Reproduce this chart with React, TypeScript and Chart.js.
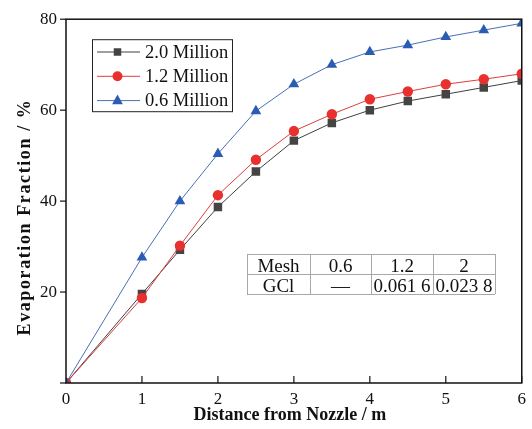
import React, { useEffect, useRef } from "react";
import { Chart, registerables } from "chart.js";

Chart.register(...registerables);

const distances = [0, 1, 1.5, 2, 2.5, 3, 3.5, 4, 4.5, 5, 5.5, 6];
const mesh20 = [0, 19.6, 29.3, 38.7, 46.5, 53.3, 57.2, 60.0, 62.0, 63.5, 65.0, 66.5];
const mesh12 = [0, 18.7, 30.2, 41.3, 49.1, 55.4, 59.1, 62.4, 64.1, 65.7, 66.8, 68.0];
const mesh06 = [0, 27.6, 40.0, 50.4, 59.8, 65.7, 70.0, 72.8, 74.3, 76.1, 77.6, 79.1];
const seriesLabels = ["2.0 Million", "1.2 Million", "0.6 Million"];
const xTicks = [0, 1, 2, 3, 4, 5, 6];
const yTicks = [0, 20, 40, 60, 80];
const xTitle = "Distance from Nozzle / m";
const yTitle = "Evaporation Fraction / %";
const tableRows = [
  ["Mesh", "0.6", "1.2", "2"],
  ["GCl", "—", "0.061 6", "0.023 8"],
];

const FONT = "'Liberation Serif', 'Times New Roman', serif";

const styles = [
  { line: "#404040", fill: "#444444", point: "rect", radius: 6, lsize: 7.5 },
  { line: "#d9403f", fill: "#e8302f", point: "circle", radius: 5.2, lsize: 5 },
  { line: "#4a6fb5", fill: "#2a5cb3", point: "triangle", radius: 6.2, lsize: 6 },
];

const decorPlugin = {
  id: "decor",
  afterDraw(chart: any) {
    const ctx = chart.ctx;
    const a = chart.chartArea;
    const xs = chart.scales.x;
    const ys = chart.scales.y;
    ctx.save();
    // frame
    ctx.strokeStyle = "#111";
    ctx.lineWidth = 1.5;
    ctx.strokeRect(a.left, a.top, a.right - a.left, a.bottom - a.top);
    // x ticks inward
    ctx.lineWidth = 1.2;
    xTicks.forEach((v) => {
      if (v === 0) return;
      const px = xs.getPixelForValue(v);
      ctx.beginPath();
      ctx.moveTo(px, a.bottom);
      ctx.lineTo(px, a.bottom - 7);
      ctx.stroke();
    });
    // y ticks outward
    yTicks.forEach((v) => {
      const py = ys.getPixelForValue(v);
      ctx.beginPath();
      ctx.moveTo(a.left, py);
      ctx.lineTo(a.left - 6, py);
      ctx.stroke();
    });

    // axis titles
    ctx.fillStyle = "#111";
    ctx.font = `bold 18px ${FONT}`;
    ctx.textAlign = "center";
    ctx.textBaseline = "alphabetic";
    ctx.fillText(xTitle, (a.left + a.right) / 2 - 4, 419.5);
    ctx.save();
    ctx.translate(30, 217);
    ctx.rotate(-Math.PI / 2);
    (ctx as any).letterSpacing = "1.6px";
    ctx.fillText(yTitle, 0, 0);
    ctx.restore();

    // legend
    const lx = a.left + 26;
    const ly = a.top + 20;
    const lw = 140;
    const lh = 72;
    ctx.fillStyle = "#fff";
    ctx.fillRect(lx, ly, lw, lh);
    ctx.strokeStyle = "#222";
    ctx.lineWidth = 1;
    ctx.strokeRect(lx + 0.5, ly + 0.5, lw, lh);
    ctx.font = `18.5px ${FONT}`;
    ctx.textBaseline = "middle";
    ctx.textAlign = "left";
    seriesLabels.forEach((lab, i) => {
      const y = ly + 12.8 + i * 24.3;
      const s = styles[i];
      ctx.strokeStyle = s.line;
      ctx.lineWidth = 1;
      ctx.beginPath();
      ctx.moveTo(lx + 5, y);
      ctx.lineTo(lx + 48, y);
      ctx.stroke();
      ctx.fillStyle = s.fill;
      const cx = lx + 25.5;
      const m = s.lsize;
      if (s.point === "rect") {
        ctx.fillRect(cx - m / 2, y - m / 2, m, m);
      } else if (s.point === "circle") {
        ctx.beginPath();
        ctx.arc(cx, y, m, 0, Math.PI * 2);
        ctx.fill();
      } else {
        ctx.beginPath();
        ctx.moveTo(cx, y - m);
        ctx.lineTo(cx + m * 0.9, y + m * 0.6);
        ctx.lineTo(cx - m * 0.9, y + m * 0.6);
        ctx.closePath();
        ctx.fill();
      }
      ctx.fillStyle = "#111";
      ctx.fillText(lab, lx + 53, y + 1);
    });

    // table
    const tx = a.left + 181;
    const ty = 254;
    const colW = [63, 61, 62, 62];
    const rowH = 20;
    ctx.strokeStyle = "#a8a8a8";
    ctx.lineWidth = 1;
    const totalW = colW.reduce((p, c) => p + c, 0);
    ctx.fillStyle = "#fff";
    ctx.fillRect(tx, ty, totalW, rowH * 2);
    for (let r = 0; r <= 2; r++) {
      ctx.beginPath();
      ctx.moveTo(tx, ty + r * rowH + 0.5);
      ctx.lineTo(tx + totalW, ty + r * rowH + 0.5);
      ctx.stroke();
    }
    let cxp = tx;
    for (let c = 0; c <= colW.length; c++) {
      ctx.beginPath();
      ctx.moveTo(cxp + 0.5, ty);
      ctx.lineTo(cxp + 0.5, ty + rowH * 2);
      ctx.stroke();
      if (c < colW.length) cxp += colW[c];
    }
    ctx.fillStyle = "#111";
    ctx.textAlign = "center";
    ctx.textBaseline = "alphabetic";
    ctx.font = `19px ${FONT}`;
    tableRows.forEach((row, r) => {
      let x0 = tx;
      row.forEach((cell, c) => {
        ctx.fillText(cell, x0 + colW[c] / 2, ty + r * rowH + 17.5);
        x0 += colW[c];
      });
    });
    ctx.restore();
  },
};

export default function App() {
  const ref = useRef<HTMLCanvasElement>(null);
  useEffect(() => {
    document.body.style.margin = "0";
    const series = [mesh20, mesh12, mesh06];
    const chart = new Chart(ref.current!, {
      type: "line",
      data: {
        datasets: series.map((vals, i) => ({
          label: seriesLabels[i],
          data: distances.map((d, j) => ({ x: d, y: vals[j] })),
          borderColor: styles[i].line,
          backgroundColor: styles[i].fill,
          pointBackgroundColor: styles[i].fill,
          pointBorderColor: styles[i].fill,
          pointBorderWidth: 0,
          pointStyle: styles[i].point as any,
          pointRadius: styles[i].radius,
          borderWidth: 1,
          tension: 0,
          order: 2 - i,
        })),
      },
      options: {
        animation: false,
        responsive: false,
        maintainAspectRatio: false,
        layout: { padding: { left: 0, right: 8, top: 15, bottom: 0 } },
        plugins: { legend: { display: false }, tooltip: { enabled: false } },
        scales: {
          x: {
            type: "linear",
            min: 0,
            max: 6,
            afterBuildTicks: (s: any) => {
              s.ticks = xTicks.map((v) => ({ value: v }));
            },
            afterFit: (s: any) => {
              s.height = 46;
            },
            grid: { display: false, drawTicks: false },
            border: { display: false },
            ticks: {
              color: "#111",
              padding: 6,
              font: { family: FONT, size: 17 },
              maxRotation: 0,
            },
            title: { display: false },
          },
          y: {
            type: "linear",
            min: 0,
            max: 80,
            afterBuildTicks: (s: any) => {
              s.ticks = yTicks.map((v) => ({ value: v }));
            },
            afterFit: (s: any) => {
              s.width = 66;
            },
            grid: { display: false, drawTicks: false },
            border: { display: false },
            ticks: {
              color: "#111",
              padding: 9,
              font: { family: FONT, size: 17 },
              callback: (v: any) => (v === 0 ? "" : String(v)),
            },
            title: { display: false },
          },
        },
      },
      plugins: [decorPlugin],
    });
    return () => chart.destroy();
  }, []);
  return (
    <div style={{ width: 532, height: 429, background: "#fff" }}>
      <canvas ref={ref} width={532} height={429} style={{ display: "block" }} />
    </div>
  );
}
